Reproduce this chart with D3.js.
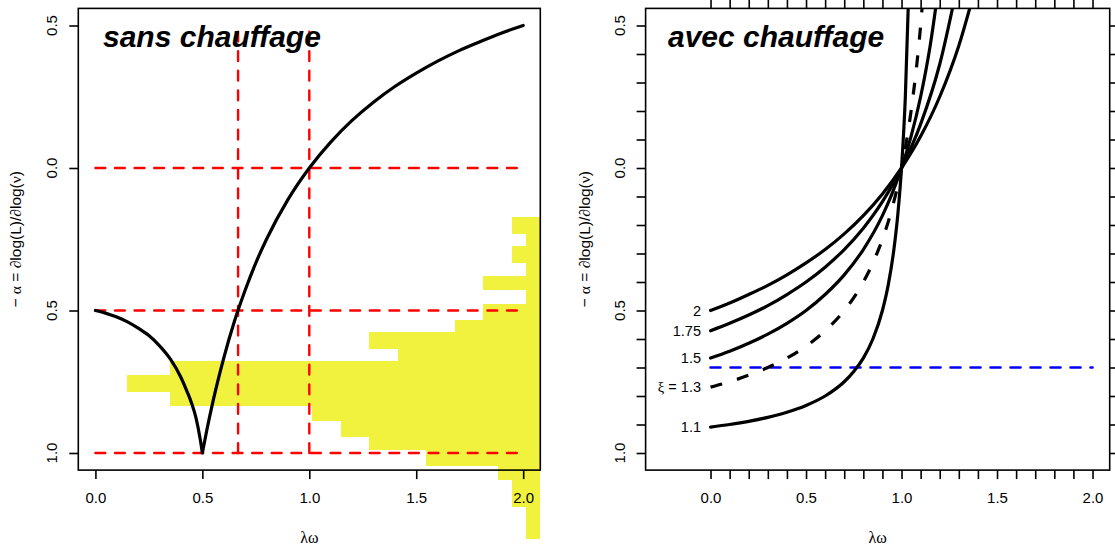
<!DOCTYPE html>
<html><head><meta charset="utf-8">
<script src="https://cdn.jsdelivr.net/npm/d3@7"></script>
<style>
body{margin:0;background:#fff}
svg{display:block}
text{font-family:"Liberation Sans",Arial,Helvetica,sans-serif;fill:#000}
.sym{font-family:"Liberation Serif","DejaVu Serif",serif}
</style>
</head><body><svg id="c" width="1115" height="550"></svg>
<script>
// ---------------- DATA ----------------
// Left panel ("sans chauffage"): -alpha versus lambda*omega
const leftBranchLw    = [0, 0.05, 0.1, 0.15, 0.2, 0.25, 0.3, 0.35, 0.4, 0.43, 0.45, 0.47, 0.49, 0.5];
const leftBranchAlpha = [-0.5, -0.51, -0.523, -0.54, -0.562, -0.588, -0.624, -0.67, -0.735, -0.787, -0.826, -0.876, -0.952, -1.0];
const rightBranchLw    = [0.5, 0.52, 0.55, 0.6, 0.65, 0.7, 0.75, 0.8, 0.9, 1.0, 1.1, 1.2, 1.3, 1.4, 1.5, 1.6, 1.7, 1.8, 1.9, 2.0];
const rightBranchAlpha = [-1.0, -0.923, -0.818, -0.667, -0.538, -0.429, -0.333, -0.25, -0.111, 0, 0.091, 0.167, 0.231, 0.286, 0.333, 0.375, 0.412, 0.444, 0.474, 0.5];

// Histogram of -alpha (horizontal bars anchored at the right edge)
const histEdges  = [-0.173, -0.232, -0.272, -0.334, -0.378, -0.428, -0.478, -0.533, -0.574, -0.635, -0.678,
                    -0.727, -0.787, -0.836, -0.888, -0.943, -0.988, -1.045, -1.094, -1.189, -1.301];
const histCounts = [2, 1, 2, 1, 4, 1, 4, 6, 12, 10, 26, 29, 26, 16, 14, 12, 8, 3, 2, 1];

// Reference lines (left panel)
const refHoriz = [0, -0.5, -1.0];
const refVert  = [0.667, 1.0];

// Right panel ("avec chauffage"): one curve per xi
const xiLabels = ["2", "1.75", "1.5", "1.3", "1.1"];
const xi2_lw     = [0, 0.1, 0.2, 0.3, 0.4, 0.5, 0.6, 0.7, 0.8, 0.9, 1.0, 1.1, 1.2, 1.3, 1.4];
const xi2_alpha  = [-0.5, -0.474, -0.444, -0.412, -0.375, -0.333, -0.286, -0.231, -0.167, -0.091, 0, 0.111, 0.25, 0.429, 0.667];
const xi175_lw    = [0, 0.1, 0.2, 0.3, 0.4, 0.5, 0.6, 0.7, 0.8, 0.9, 1.0, 1.1, 1.2, 1.3];
const xi175_alpha = [-0.571, -0.545, -0.516, -0.483, -0.444, -0.4, -0.348, -0.286, -0.211, -0.118, 0, 0.154, 0.364, 0.667];
const xi15_lw    = [0, 0.1, 0.2, 0.3, 0.4, 0.5, 0.6, 0.7, 0.8, 0.9, 0.95, 1.0, 1.05, 1.1, 1.15, 1.2];
const xi15_alpha = [-0.667, -0.643, -0.615, -0.583, -0.545, -0.5, -0.444, -0.375, -0.286, -0.167, -0.091, 0, 0.111, 0.25, 0.429, 0.667];
const xi13_lw    = [0, 0.1, 0.2, 0.3, 0.4, 0.5, 0.6, 0.7, 0.8, 0.85, 0.9, 0.95, 1.0, 1.05, 1.1, 1.12];
const xi13_alpha = [-0.769, -0.75, -0.727, -0.7, -0.667, -0.625, -0.571, -0.5, -0.4, -0.333, -0.25, -0.143, 0, 0.2, 0.5, 0.667];
const xi11_lw    = [0, 0.1, 0.2, 0.3, 0.4, 0.5, 0.6, 0.7, 0.75, 0.8, 0.85, 0.9, 0.93, 0.96, 0.98, 1.0, 1.02, 1.04];
const xi11_alpha = [-0.909, -0.9, -0.889, -0.875, -0.857, -0.833, -0.8, -0.75, -0.714, -0.667, -0.6, -0.5, -0.412, -0.286, -0.167, 0, 0.25, 0.667];
const xiDashed   = [false, false, false, true, false];
const blueLevel  = -0.7;

// Axis ticks
const majorX = [0, 0.5, 1.0, 1.5, 2.0];
const majorY = [0.5, 0, -0.5, -1.0];
const minorX = [0,0.1,0.2,0.3,0.4,0.5,0.6,0.7,0.8,0.9,1.0,1.1,1.2,1.3,1.4,1.5,1.6,1.7,1.8,1.9,2.0];
const minorY = [0.5,0.4,0.3,0.2,0.1,0,-0.1,-0.2,-0.3,-0.4,-0.5,-0.6,-0.7,-0.8,-0.9,-1.0];

// ---------------- DRAW ----------------
const svg = d3.select("#c");
svg.append("rect").attr("width",1115).attr("height",550).attr("fill","#fff");

const yS = d3.scaleLinear().domain([-1.06, 0.56]).range([470.1, 8.4]);
const xL = d3.scaleLinear().domain([-0.08, 2.08]).range([78.3, 540.3]);
const xR = d3.scaleLinear().domain([-0.34, 2.09]).range([645.6, 1109.7]);
const fmt = d => d3.format(".1f")(Math.abs(d));
const TICK = 9;

function zip(a,b){ return a.map((v,i)=>[v,b[i]]); }

function yLabelText(g, xBase, cx){
  const t = g.append("text")
    .attr("transform", `translate(${xBase},${cx}) rotate(-90)`)
    .attr("text-anchor","middle").attr("font-size",15.5);
  t.append("tspan").text("\u2212 ");
  t.append("tspan").attr("class","sym").text("\u03b1");
  t.append("tspan").text(" = ");
  t.append("tspan").attr("class","sym").text("\u2202");
  t.append("tspan").text("log(L)/");
  t.append("tspan").attr("class","sym").text("\u2202");
  t.append("tspan").text("log(");
  t.append("tspan").attr("class","sym").text("\u03bd");
  t.append("tspan").text(")");
}

// ===== LEFT PANEL =====
const gL = svg.append("g");
const xCount = d3.scaleLinear().domain([0, 15]).range([xL(2.08), xL(1.08)]);
gL.append("g").selectAll("rect").data(histCounts).join("rect")
  .attr("x", d => xCount(d))
  .attr("width", d => xCount(0) - xCount(d))
  .attr("y", (d,i) => yS(histEdges[i]))
  .attr("height", (d,i) => yS(histEdges[i+1]) - yS(histEdges[i]))
  .attr("fill", "#f0f23e").attr("shape-rendering","crispEdges");

const redStyle = s => s.attr("stroke","#ff0000").attr("stroke-width",2.4)
  .attr("stroke-dasharray","9.8,9.8").attr("stroke-linecap","round").attr("fill","none");
refHoriz.forEach(v => gL.append("line")
  .attr("x1", xL(0)).attr("x2", xL(2)).attr("y1", yS(v)).attr("y2", yS(v)).call(redStyle));
refVert.forEach(v => gL.append("line")
  .attr("x1", xL(v)).attr("x2", xL(v)).attr("y1", yS(-1)).attr("y2", yS(0.5)).call(redStyle));

const lineL = d3.line().x(d => xL(d[0])).y(d => yS(d[1])).curve(d3.curveMonotoneX);
const pLeft = lineL(zip(leftBranchLw, leftBranchAlpha));
const pRight = lineL(zip(rightBranchLw, rightBranchAlpha)).replace(/^M/, "L");
gL.append("path").attr("d", pLeft + pRight)
  .attr("fill","none").attr("stroke","#000").attr("stroke-width",3.2)
  .attr("stroke-linejoin","round").attr("stroke-linecap","round");

// box & axes
gL.append("rect").attr("x",xL(-0.08)).attr("y",yS(0.56))
  .attr("width",xL(2.08)-xL(-0.08)).attr("height",yS(-1.06)-yS(0.56))
  .attr("fill","none").attr("stroke","#000").attr("stroke-width",1.6);
const axBL = gL.append("g").attr("transform",`translate(0,${yS(-1.06)})`)
  .call(d3.axisBottom(xL).tickValues(majorX).tickSize(TICK).tickPadding(13).tickFormat(d3.format(".1f")));
const axLL = gL.append("g").attr("transform",`translate(${xL(-0.08)},0)`)
  .call(d3.axisLeft(yS).tickValues(majorY).tickSize(TICK).tickFormat(""));
[axBL, axLL].forEach(a => { a.select(".domain").remove();
  a.selectAll("line").attr("stroke","#000").attr("stroke-width",1.6);
  a.selectAll("text").attr("font-size",15).attr("font-family","Liberation Sans, Arial, sans-serif").attr("fill","#000"); });
majorY.forEach(v => gL.append("text").attr("font-size",15).attr("text-anchor","middle")
  .attr("transform",`translate(${xL(-0.08)-21},${yS(v)}) rotate(-90)`).text(fmt(v)));

gL.append("text").attr("x",103).attr("y",47).attr("font-size",30)
  .attr("font-weight","bold").attr("font-style","italic").text("sans chauffage");
gL.append("text").attr("class","sym").attr("x",xL(1.0)).attr("y",543)
  .attr("text-anchor","middle").attr("font-size",16).text("\u03bb\u03c9");
yLabelText(gL, 21, yS(-0.25));

// ===== RIGHT PANEL =====
const gR = svg.append("g");
svg.append("defs").append("clipPath").attr("id","clipR").append("rect")
  .attr("x",xR(-0.34)).attr("y",yS(0.56)).attr("width",xR(2.09)-xR(-0.34)).attr("height",yS(-1.06)-yS(0.56));

gR.append("line").attr("x1",xR(0)).attr("x2",xR(2)).attr("y1",yS(blueLevel)).attr("y2",yS(blueLevel))
  .attr("stroke","#0000ff").attr("stroke-width",2.6).attr("stroke-dasharray","10,10").attr("stroke-linecap","round");

const curvesR = [zip(xi2_lw,xi2_alpha), zip(xi175_lw,xi175_alpha), zip(xi15_lw,xi15_alpha),
                 zip(xi13_lw,xi13_alpha), zip(xi11_lw,xi11_alpha)];
const lineR = d3.line().x(d => xR(d[0])).y(d => yS(d[1])).curve(d3.curveMonotoneX);
const gc = gR.append("g").attr("clip-path","url(#clipR)");
curvesR.forEach((c,i) => {
  const p = gc.append("path").attr("d", lineR(c)).attr("fill","none")
    .attr("stroke","#000").attr("stroke-width",3.2);
  if (xiDashed[i]) p.attr("stroke-dasharray","12,15.6").attr("stroke-linecap","butt");
  else p.attr("stroke-linecap","round");
});

// curve labels
curvesR.forEach((c,i) => {
  const t = gR.append("text").attr("x", xR(-0.05)).attr("y", yS(c[0][1])).attr("dy","0.35em")
    .attr("text-anchor","end").attr("font-size",14.5);
  if (i === 3) { t.append("tspan").attr("class","sym").text("\u03be"); t.append("tspan").text(" = " + xiLabels[i]); }
  else t.text(xiLabels[i]);
});

gR.append("rect").attr("x",xR(-0.34)).attr("y",yS(0.56))
  .attr("width",xR(2.09)-xR(-0.34)).attr("height",yS(-1.06)-yS(0.56))
  .attr("fill","none").attr("stroke","#000").attr("stroke-width",1.6);
const lblX = d => majorX.some(m => Math.abs(m-d)<1e-6) ? d3.format(".1f")(d) : "";
const axB = gR.append("g").attr("transform",`translate(0,${yS(-1.06)})`)
  .call(d3.axisBottom(xR).tickValues(minorX).tickSize(TICK).tickPadding(13).tickFormat(lblX));
const axT = gR.append("g").attr("transform",`translate(0,${yS(0.56)})`)
  .call(d3.axisTop(xR).tickValues(minorX).tickSize(TICK).tickFormat(""));
const axLf = gR.append("g").attr("transform",`translate(${xR(-0.34)},0)`)
  .call(d3.axisLeft(yS).tickValues(minorY).tickSize(TICK).tickFormat(""));
const axRt = gR.append("g").attr("transform",`translate(${xR(2.09)},0)`)
  .call(d3.axisRight(yS).tickValues(minorY).tickSize(TICK).tickFormat(""));
[axB, axT, axLf, axRt].forEach(a => { a.select(".domain").remove();
  a.selectAll("line").attr("stroke","#000").attr("stroke-width",1.6);
  a.selectAll("text").attr("font-size",15).attr("font-family","Liberation Sans, Arial, sans-serif").attr("fill","#000"); });
majorY.forEach(v => gR.append("text").attr("font-size",15).attr("text-anchor","middle")
  .attr("transform",`translate(${xR(-0.34)-21},${yS(v)}) rotate(-90)`).text(fmt(v)));

gR.append("text").attr("x",668).attr("y",47).attr("font-size",30)
  .attr("font-weight","bold").attr("font-style","italic").text("avec chauffage");
gR.append("text").attr("class","sym").attr("x",xR(0.875)).attr("y",543)
  .attr("text-anchor","middle").attr("font-size",16).text("\u03bb\u03c9");
yLabelText(gR, 590, yS(-0.25));
</script>
</body></html>
